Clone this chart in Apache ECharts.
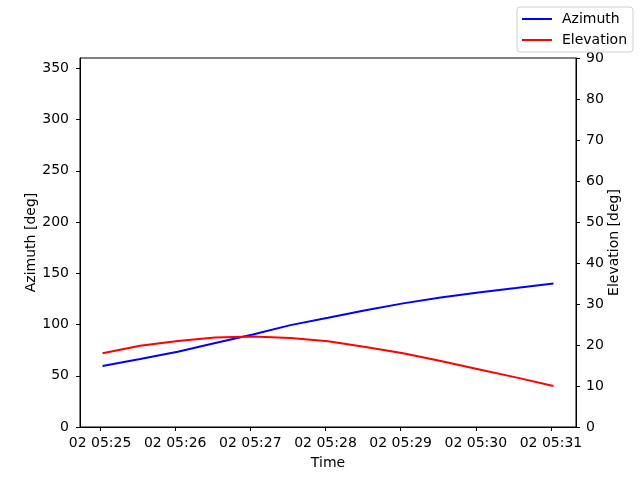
<!DOCTYPE html>
<html><head><meta charset="utf-8">
<script src="https://cdn.jsdelivr.net/npm/echarts@6/dist/echarts.min.js"></script>
<style>html,body{margin:0;padding:0;background:#fff}#c{width:640px;height:480px}</style>
</head><body><div id="c"></div>
<script>
// sample times on day 02
const times = ["05:25:02","05:25:32","05:26:02","05:26:32","05:27:02","05:27:32","05:28:02","05:28:32","05:29:02","05:29:32","05:30:02","05:30:32","05:31:02"];
const azimuth = [59.5, 66.3, 73.4, 81.9, 90.2, 99.4, 106.6, 114.0, 120.6, 126.3, 131.3, 135.5, 140.0];
const elevation = [18.0, 19.8, 21.0, 21.8, 22.1, 21.7, 20.9, 19.5, 18.0, 16.1, 14.1, 12.1, 10.0];
const day = "2020-01-02";
const xMin = "05:24:44";
const xMax = "05:31:20";

const ts = s => Date.parse(day + "T" + s + "Z");
const font = "DejaVu Sans";
const fs = 14;
const chart = echarts.init(document.getElementById('c'));
chart.setOption({
  useUTC: true,
  animation: false,
  textStyle: {fontFamily: font},
  grid: {left: 80, right: 64, top: 58, bottom: 53, show: true, borderColor: '#000', borderWidth: 1, containLabel: false},
  legend: {
    right: 7, top: 7, orient: 'vertical', backgroundColor: '#fff', borderColor: '#d0d0d0', borderWidth: 1, borderRadius: 3,
    padding: [5, 6, 5, 5], itemGap: 7, itemWidth: 30, itemHeight: 14,
    textStyle: {fontFamily: font, fontSize: fs, color: '#000', padding: [0, 0, 0, 5]},
    data: [{name: 'Azimuth', icon: 'path://M0,0 L30,0 L30,2 L0,2 Z'}, {name: 'Elevation', icon: 'path://M0,0 L30,0 L30,2 L0,2 Z'}]
  },
  xAxis: {
    type: 'time', min: ts(xMin), max: ts(xMax), minInterval: 60000, maxInterval: 60000,
    name: 'Time', nameLocation: 'middle', nameGap: 29, nameMoveOverlap: false,
    nameTextStyle: {fontFamily: font, fontSize: fs, color: '#000'},
    axisLine: {lineStyle: {color: '#000'}},
    axisTick: {show: true, length: 4, lineStyle: {color: '#000'}},
    splitLine: {show: false},
    axisLabel: {fontFamily: font, fontSize: fs, color: '#000', margin: 9, hideOverlap: false,
      formatter: v => { const d = new Date(v); const p = n => String(n).padStart(2, '0'); return p(d.getUTCDate()) + ' ' + p(d.getUTCHours()) + ':' + p(d.getUTCMinutes()); }}
  },
  yAxis: [{
    type: 'value', min: 0, max: 360, interval: 50, position: 'left',
    name: 'Azimuth [deg]', nameLocation: 'middle', nameGap: 42, nameMoveOverlap: false,
    nameTextStyle: {fontFamily: font, fontSize: fs, color: '#000'},
    axisLine: {show: true, lineStyle: {color: '#000'}},
    axisTick: {show: true, length: 4, lineStyle: {color: '#000'}},
    splitLine: {show: false},
    axisLabel: {fontFamily: font, fontSize: fs, color: '#000', margin: 11, showMaxLabel: false}
  }, {
    type: 'value', min: 0, max: 90, interval: 10, position: 'right',
    name: 'Elevation [deg]', nameLocation: 'middle', nameGap: 31, nameMoveOverlap: false,
    nameTextStyle: {fontFamily: font, fontSize: fs, color: '#000'},
    axisLine: {show: true, lineStyle: {color: '#000'}},
    axisTick: {show: true, length: 4, lineStyle: {color: '#000'}},
    splitLine: {show: false},
    axisLabel: {fontFamily: font, fontSize: fs, color: '#000', margin: 10}
  }],
  series: [{
    name: 'Azimuth', type: 'line', yAxisIndex: 0, showSymbol: false, symbol: 'none', color: '#0000ff',
    lineStyle: {color: '#0000ff', width: 2},
    data: times.map((t, i) => [ts(t), azimuth[i]])
  }, {
    name: 'Elevation', type: 'line', yAxisIndex: 1, showSymbol: false, symbol: 'none', color: '#ff0000',
    lineStyle: {color: '#ff0000', width: 2},
    data: times.map((t, i) => [ts(t), elevation[i]])
  }]
});
</script></body></html>
